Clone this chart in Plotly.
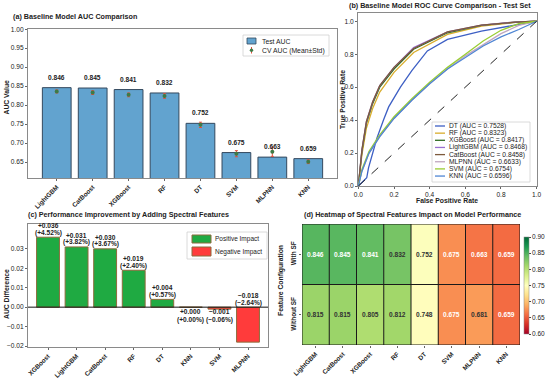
import plotly.graph_objects as go
import plotly.colors as pc

W, H = 550, 378
FONT = "Liberation Sans, Arial, sans-serif"
TXT = "#222222"

# ---------------- data ----------------
models_a = ["LightGBM", "CatBoost", "XGBoost", "RF", "DT", "SVM", "MLPNN", "KNN"]
test_auc = [0.846, 0.845, 0.841, 0.832, 0.752, 0.675, 0.663, 0.659]
cv_mean = [0.836, 0.833, 0.827, 0.824, 0.748, 0.672, 0.677, 0.651]
cv_std = [0.004, 0.005, 0.005, 0.006, 0.007, 0.008, 0.012, 0.005]

roc_names = ["DT", "RF", "XGBoost", "LightGBM", "CatBoost", "MLPNN", "SVM", "KNN"]
roc_auc = [0.7528, 0.8323, 0.8417, 0.8468, 0.8458, 0.6633, 0.6754, 0.6596]
roc_colors = ["#3d5fc4", "#d9ad2c", "#2f6b22", "#9a6fd0", "#7d5a3c", "#c0a6bf", "#9acd32", "#4f86d4"]

fpr_dt = [0, 0.047, 0.057, 0.076, 0.104, 0.141, 0.17, 0.236, 0.30, 0.387, 0.5, 0.69, 0.88, 1]
tpr_dt = [0, 0.05, 0.11, 0.19, 0.29, 0.40, 0.48, 0.60, 0.70, 0.82, 0.89, 0.94, 0.975, 1]
fpr_top = [0, 0.01, 0.02, 0.045, 0.08, 0.12, 0.2, 0.31, 0.5, 0.69, 0.88, 1]
tpr_rf = [0, 0.10, 0.19, 0.35, 0.47, 0.57, 0.69, 0.81, 0.92, 0.97, 0.993, 1]
tpr_xgb = [0, 0.12, 0.21, 0.38, 0.50, 0.60, 0.71, 0.83, 0.93, 0.975, 0.994, 1]
tpr_lgbm = [0, 0.13, 0.22, 0.39, 0.51, 0.61, 0.72, 0.84, 0.935, 0.977, 0.995, 1]
tpr_cat = [0, 0.12, 0.22, 0.39, 0.51, 0.61, 0.72, 0.835, 0.935, 0.976, 0.995, 1]
fpr_low = [0, 0.02, 0.06, 0.12, 0.2, 0.3, 0.4, 0.5, 0.6, 0.7, 0.8, 0.9, 1]
tpr_mlp = [0, 0.09, 0.20, 0.30, 0.41, 0.52, 0.62, 0.71, 0.79, 0.86, 0.925, 0.975, 1]
tpr_svm = [0, 0.10, 0.21, 0.31, 0.42, 0.53, 0.63, 0.72, 0.80, 0.88, 0.945, 0.985, 1]
tpr_knn = [0, 0.09, 0.20, 0.30, 0.41, 0.52, 0.62, 0.71, 0.78, 0.85, 0.905, 0.95, 1]

models_c = ["XGBoost", "LightGBM", "CatBoost", "RF", "DT", "KNN", "SVM", "MLPNN"]
auc_diff = [0.036, 0.031, 0.030, 0.019, 0.004, 0.000, -0.001, -0.018]
pct_diff = [4.52, 3.82, 3.67, 2.40, 0.57, 0.00, -0.06, -2.64]

models_d = ["LightGBM", "CatBoost", "XGBoost", "RF", "DT", "SVM", "MLPNN", "KNN"]
rows_d = ["With SF", "Without SF"]
with_sf = [0.846, 0.845, 0.841, 0.832, 0.752, 0.675, 0.663, 0.659]
without_sf = [0.815, 0.815, 0.805, 0.812, 0.748, 0.675, 0.681, 0.659]


def px(x):
    return x / W


def py(y):
    return 1 - y / H


def mfmt(v, f):
    s = format(v, f)
    return s.replace("-", "\u2212")


fig = go.Figure()
ann = []
shapes = []

# ---------------- (a) ----------------
xa = list(range(len(models_a)))
fig.add_trace(go.Bar(x=xa, y=test_auc, width=0.8, xaxis="x", yaxis="y",
                     marker=dict(color="#62a3cf", line=dict(color="#34495e", width=1)),
                     showlegend=False))
fig.add_trace(go.Scatter(x=xa, y=cv_mean, mode="markers", xaxis="x", yaxis="y",
                         marker=dict(color="#3f7a46", size=4),
                         error_y=dict(type="data", array=cv_std, color="#e0503c", thickness=1, width=1.5),
                         showlegend=False))
for i, v in enumerate(test_auc):
    ann.append(dict(x=i, y=v, xref="x", yref="y", text=f"{v:.3f}", showarrow=False,
                    yanchor="bottom", yshift=5, font=dict(size=6.6, weight="bold", color=TXT)))

# ---------------- (b) ----------------
roc_fpr = [fpr_dt, fpr_top, fpr_top, fpr_top, fpr_top, fpr_low, fpr_low, fpr_low]
roc_tpr = [tpr_dt, tpr_rf, tpr_xgb, tpr_lgbm, tpr_cat, tpr_mlp, tpr_svm, tpr_knn]
for n, f, t, c in zip(roc_names, roc_fpr, roc_tpr, roc_colors):
    fig.add_trace(go.Scatter(x=f, y=t, mode="lines", xaxis="x2", yaxis="y2",
                             line=dict(color=c, width=1.3), showlegend=False, name=n))
fig.add_trace(go.Scatter(x=[0, 1], y=[0, 1], mode="lines", xaxis="x2", yaxis="y2",
                         line=dict(color="#222", width=1, dash="dash"), showlegend=False))

# ---------------- (c) ----------------
xc = list(range(len(models_c)))
col_c = ["#1faa42" if d >= 0 else "#ff3b3b" for d in auc_diff]
fig.add_trace(go.Bar(x=xc, y=auc_diff, width=0.8, xaxis="x3", yaxis="y3",
                     marker=dict(color=col_c, line=dict(color="#8c6b3c", width=1)),
                     showlegend=False))
for i, (d, p) in enumerate(zip(auc_diff, pct_diff)):
    l1 = mfmt(d, "+.3f")
    l2 = "(" + mfmt(p, "+.2f") + "%)"
    if abs(d) >= 0.002:
        yb = max(d, 0)
        s1, s2 = 11.5, 4.5
    else:
        yb = 0
        s1, s2 = -4.5, -12.5
    for txt, s in ((l1, s1), (l2, s2)):
        ann.append(dict(x=i, y=yb, xref="x3", yref="y3", text=txt, showarrow=False,
                        yanchor="middle", yshift=s, font=dict(size=6.6, weight="bold", color=TXT)))

# ---------------- (d) ----------------
zmin, zmax = 0.60, 0.90
fig.add_trace(go.Heatmap(z=[without_sf, with_sf], x=list(range(len(models_d))), y=[0, 1],
                         xaxis="x4", yaxis="y4", colorscale="RdYlGn", zmin=zmin, zmax=zmax,
                         colorbar=dict(x=px(524), xanchor="left", y=py(285.5), yanchor="middle",
                                       len=97 / H, lenmode="fraction", thickness=5,
                                       outlinewidth=0.5, outlinecolor="#888", xpad=0, ypad=0,
                                       tickvals=[0.60, 0.65, 0.70, 0.75, 0.80, 0.85, 0.90],
                                       ticktext=["0.60", "0.65", "0.70", "0.75", "0.80", "0.85", "0.90"],
                                       ticks="outside", ticklen=2, tickcolor="#444",
                                       tickfont=dict(size=6.5, color=TXT, family=FONT)),
                         showscale=True, hoverinfo="skip"))


def lum(cstr):
    vals = [float(v) / 255 for v in cstr[cstr.index("(") + 1:-1].split(",")]
    lin = [c / 12.92 if c <= 0.03928 else ((c + 0.055) / 1.055) ** 2.4 for c in vals]
    return 0.2126 * lin[0] + 0.7152 * lin[1] + 0.0722 * lin[2]


for rowy, rowvals in ((1, with_sf), (0, without_sf)):
    for i, v in enumerate(rowvals):
        c = pc.sample_colorscale("RdYlGn", [(v - zmin) / (zmax - zmin)])[0]
        tc = "#333333" if lum(c) > 0.408 else "#ffffff"
        ann.append(dict(x=i, y=rowy, xref="x4", yref="y4", text=f"{v:.3f}", showarrow=False,
                        font=dict(size=6.6, weight="bold", color=tc)))
for i in range(len(models_d) + 1):
    shapes.append(dict(type="line", xref="x4", yref="y4", x0=i - 0.5, x1=i - 0.5, y0=-0.5, y1=1.5,
                       line=dict(color="#1a1a1a", width=1)))
for j in range(len(rows_d) + 1):
    shapes.append(dict(type="line", xref="x4", yref="y4", x0=-0.5, x1=len(models_d) - 0.5,
                       y0=j - 0.5, y1=j - 0.5, line=dict(color="#1a1a1a", width=1)))

# ---------------- titles / axis titles ----------------
def title(text, x, y):
    ann.append(dict(x=px(x), y=py(y), xref="paper", yref="paper", text=text, showarrow=False,
                    xanchor="left", yanchor="middle", font=dict(size=7.2, weight="bold", color=TXT)))


title("(a) Baseline Model AUC Comparison", 11, 16)
title("(b) Baseline Model ROC Curve Comparison - Test Set", 347, 6)
title("(c) Performance Improvement by Adding Spectral Features", 26, 214)
title("(d) Heatmap of Spectral Features Impact on Model Performance", 302, 214)


def axtitle(text, x, y, angle=0):
    ann.append(dict(x=px(x), y=py(y), xref="paper", yref="paper", text=text, showarrow=False,
                    xanchor="center", yanchor="middle", textangle=angle,
                    font=dict(size=6.8, weight="bold", color=TXT)))


axtitle("AUC Value", 6, 97.5, -90)
axtitle("True Positive Rate", 342, 100, -90)
axtitle("False Positive Rate", 447, 200)
axtitle("AUC Difference", 6, 294, -90)
axtitle("Feature Configuration", 281, 281, -90)

# ---------------- custom legends ----------------
def legtext(text, x, y, size=6.8):
    ann.append(dict(x=px(x), y=py(y), xref="paper", yref="paper", text=text, showarrow=False,
                    xanchor="left", yanchor="middle", font=dict(size=size, color=TXT)))


def box(x0, y0, x1, y1):
    shapes.append(dict(type="rect", xref="paper", yref="paper", x0=px(x0), x1=px(x1), y0=py(y1), y1=py(y0),
                       fillcolor="rgba(255,255,255,0.85)", line=dict(color="#d0d0d0", width=0.8)))


# (a) legend
box(243, 35, 329, 56)
shapes.append(dict(type="rect", xref="paper", yref="paper", x0=px(247), x1=px(256), y0=py(44), y1=py(38),
                   fillcolor="#62a3cf", line=dict(color="#34495e", width=0.8)))
shapes.append(dict(type="line", xref="paper", yref="paper", x0=px(251.5), x1=px(251.5), y0=py(53.5), y1=py(47),
                   line=dict(color="#e0503c", width=1)))
shapes.append(dict(type="circle", xref="paper", yref="paper", x0=px(249.8), x1=px(253.2), y0=py(52), y1=py(48.6),
                   fillcolor="#3f7a46", line=dict(width=0)))
legtext("Test AUC", 260, 41)
legtext("CV AUC (Mean±Std)", 260, 50.5)

# (b) legend
box(432, 122, 530, 182)
for k, (n, a, c) in enumerate(zip(roc_names, roc_auc, roc_colors)):
    yy = 126 + k * 7.15
    shapes.append(dict(type="line", xref="paper", yref="paper", x0=px(435), x1=px(445), y0=py(yy), y1=py(yy),
                       line=dict(color=c, width=1.3)))
    legtext(f"{n} (AUC = {a:.4f})", 447, yy, 6.7)

# (c) legend
box(187, 232, 267, 259)
shapes.append(dict(type="rect", xref="paper", yref="paper", x0=px(192), x1=px(211), y0=py(243), y1=py(235),
                   fillcolor="#1faa42", line=dict(color="#8c6b3c", width=1)))
shapes.append(dict(type="rect", xref="paper", yref="paper", x0=px(192), x1=px(211), y0=py(256), y1=py(247),
                   fillcolor="#ff3b3b", line=dict(color="#8c6b3c", width=1)))
legtext("Positive Impact", 213, 239, 6.5)
legtext("Negative Impact", 213, 251.5, 6.5)

# ---------------- axes ----------------
tickf = dict(size=6.6, color=TXT, family=FONT)
tickfb = dict(size=6.4, color=TXT, family=FONT, weight="bold")
frame = dict(showline=True, mirror=True, linecolor="#8a8a8a", linewidth=1, showgrid=False, zeroline=False,
             ticks="outside", ticklen=2, tickcolor="#666", automargin=False)
plain = dict(showgrid=False, zeroline=False, showline=False, ticks="outside", ticklen=2, tickcolor="#666",
             automargin=False)

a_ticks = [0.65, 0.70, 0.75, 0.80, 0.85, 0.90, 0.95, 1.00]
roc_ticks = [0.0, 0.2, 0.4, 0.6, 0.8, 1.0]
c_ticks = [-0.02, -0.01, 0.0, 0.01, 0.02, 0.03]

fig.update_layout(
    width=W, height=H, autosize=False, margin=dict(l=0, r=0, t=0, b=0, pad=0, autoexpand=False),
    paper_bgcolor="white", plot_bgcolor="white", font=dict(family=FONT, color=TXT),
    bargap=0.2, showlegend=False, hovermode=False,
    xaxis=dict(domain=[px(28), px(337)], anchor="y", range=[-0.8, 7.8], tickvals=xa, ticktext=models_a,
               tickangle=-45, tickfont=tickfb, **frame),
    yaxis=dict(domain=[py(178), py(29)], anchor="x", range=[0.608, 1.0005], tickvals=a_ticks,
               ticktext=[f"{t:.2f}" for t in a_ticks], tickfont=tickf, **frame),
    xaxis2=dict(domain=[px(358), px(537)], anchor="y2", range=[-0.002, 1.002], tickvals=roc_ticks,
                ticktext=[f"{t:.1f}" for t in roc_ticks], tickfont=tickf, **frame),
    yaxis2=dict(domain=[py(186), py(13)], anchor="x2", range=[0, 1.05], tickvals=roc_ticks,
                ticktext=[f"{t:.1f}" for t in roc_ticks], tickfont=tickf, **frame),
    xaxis3=dict(domain=[px(28), px(268)], anchor="y3", range=[-0.7, 7.7], tickvals=xc, ticktext=models_c,
                tickangle=-45, tickfont=tickfb, **frame),
    yaxis3=dict(domain=[py(347), py(224)], anchor="x3", range=[-0.0205, 0.0428], tickvals=c_ticks,
                ticktext=[mfmt(t, ".2f") for t in c_ticks], tickfont=tickf, **frame),
    xaxis4=dict(domain=[px(302), px(520)], anchor="y4", range=[-0.5, 7.5], tickvals=list(range(8)),
                ticktext=models_d, tickangle=-45, tickfont=tickfb, **plain),
    yaxis4=dict(domain=[py(345), py(224)], anchor="x4", range=[-0.5, 1.5], tickvals=[1, 0],
                ticktext=rows_d, tickangle=-90, tickfont=tickfb, **plain),
    annotations=ann, shapes=shapes,
)
# zero line in (c)
fig.add_shape(type="line", xref="x3 domain", yref="y3", x0=0, x1=1, y0=0, y1=0,
              line=dict(color="#111", width=1))

fig.write_html("out.html", config={"displayModeBar": False, "staticPlot": True},
               post_script="document.body.style.margin='0px';document.body.style.padding='0px';")
